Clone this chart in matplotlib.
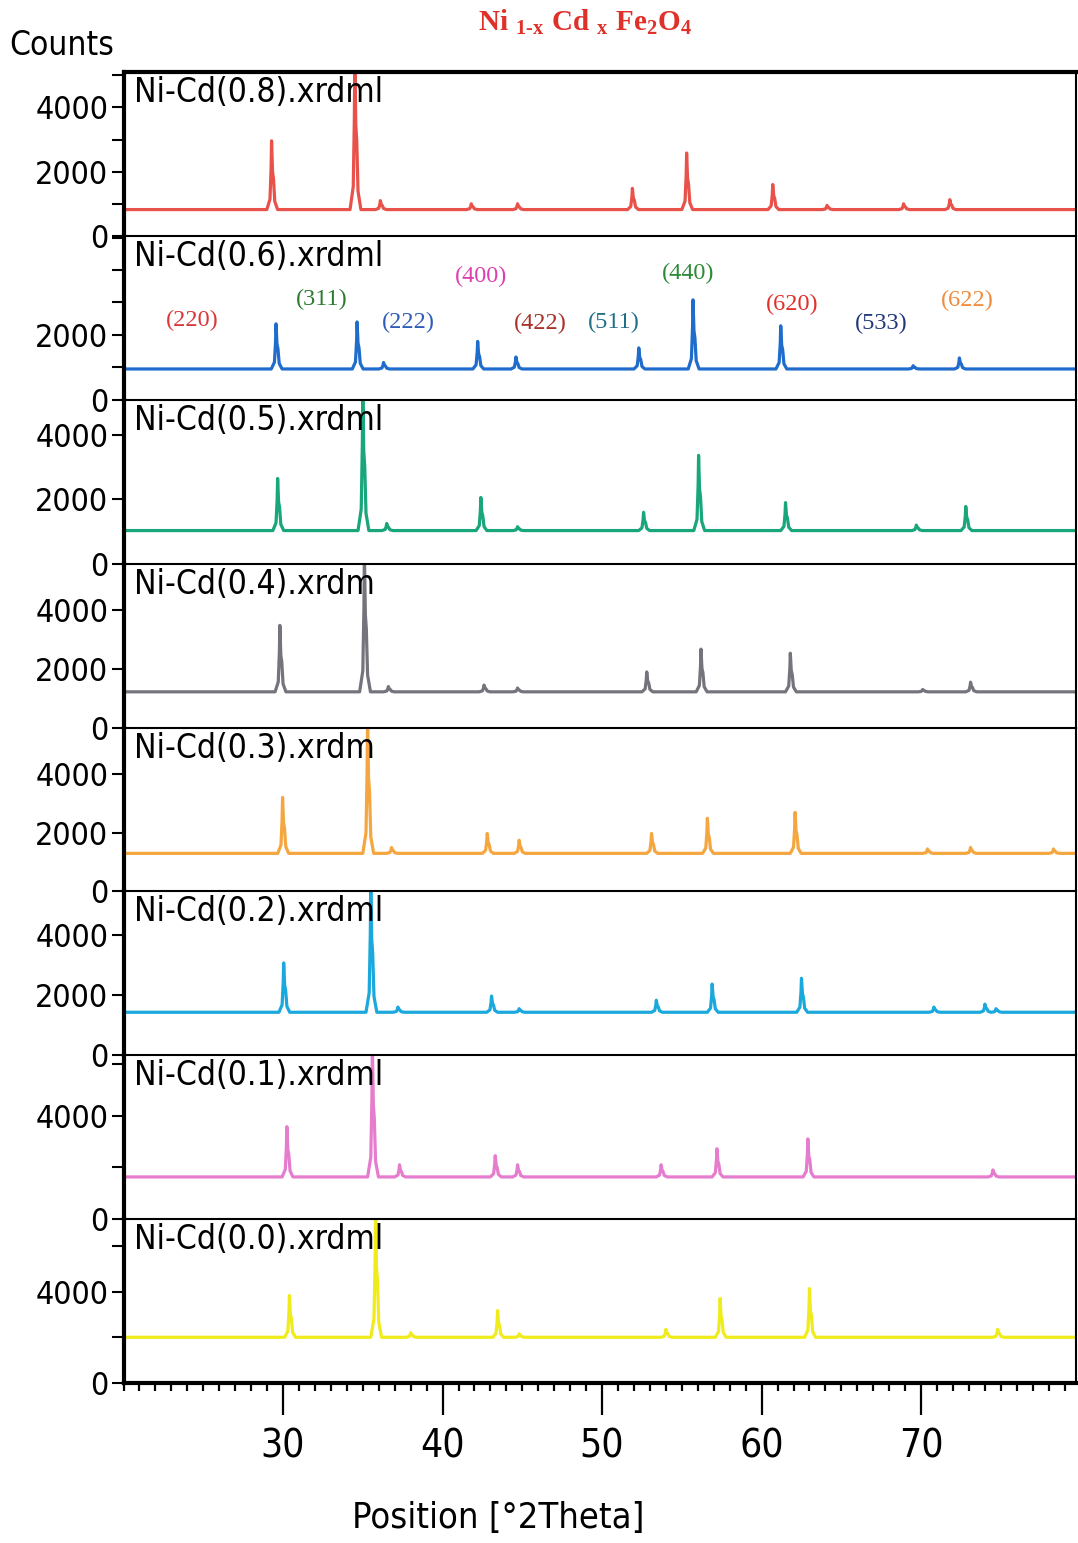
import matplotlib
matplotlib.use("Agg")
import matplotlib.pyplot as plt
from matplotlib import font_manager
from matplotlib.ticker import MultipleLocator, FixedLocator
import numpy as np

# sample labels, top to bottom
labels = ["Ni-Cd(0.8).xrdml", "Ni-Cd(0.6).xrdml", "Ni-Cd(0.5).xrdml", "Ni-Cd(0.4).xrdm",
          "Ni-Cd(0.3).xrdm", "Ni-Cd(0.2).xrdml", "Ni-Cd(0.1).xrdml", "Ni-Cd(0.0).xrdml"]
colors = ["#e8524b", "#1f6ccc", "#18a67a", "#74747c", "#f4a640", "#1aa8dd", "#e67ccd", "#f0ec1c"]

# background level of each pattern (counts)
baselines = [820, 950, 1030, 1220, 1300, 1430, 1630, 2000]

# peak positions (2theta) and heights (counts)
pos_08 = [29.28, 34.5, 36.1, 41.8, 44.7, 51.9, 55.3, 60.7, 64.1, 68.9, 71.8]
cnt_08 = [2960, 5600, 1100, 1000, 1000, 1480, 2580, 1600, 950, 1000, 1130]
pos_06 = [29.56, 34.64, 36.3, 42.2, 44.6, 52.3, 55.7, 61.2, 69.5, 72.4]
cnt_06 = [2340, 2400, 1150, 1800, 1320, 1600, 3080, 2280, 1050, 1290]
pos_05 = [29.66, 35.0, 36.5, 42.4, 44.7, 52.6, 56.05, 61.5, 69.7, 72.8]
cnt_05 = [2650, 5500, 1250, 2060, 1150, 1600, 3370, 1900, 1200, 1780]
pos_04 = [29.8, 35.1, 36.6, 42.6, 44.7, 52.8, 56.2, 61.8, 70.1, 73.1]
cnt_04 = [3490, 6000, 1400, 1450, 1350, 1900, 2680, 2540, 1300, 1550]
pos_03 = [29.97, 35.3, 36.8, 42.8, 44.8, 53.1, 56.6, 62.1, 70.4, 73.1, 78.3]
cnt_03 = [3210, 6000, 1500, 1980, 1750, 1980, 2500, 2700, 1450, 1500, 1450]
pos_02 = [30.04, 35.5, 37.2, 43.07, 44.8, 53.4, 56.9, 62.5, 70.8, 74.0, 74.7]
cnt_02 = [3070, 5800, 1600, 1970, 1550, 1830, 2370, 2560, 1600, 1700, 1550]
pos_01 = [30.24, 35.6, 37.3, 43.3, 44.7, 53.7, 57.2, 62.9, 74.5]
cnt_01 = [3570, 6700, 2100, 2450, 2100, 2100, 2720, 3100, 1900]
pos_00 = [30.4, 35.8, 38.0, 43.45, 44.8, 54.0, 57.4, 63.0, 74.8]
cnt_00 = [3830, 7500, 2200, 3170, 2150, 2350, 3700, 4130, 2350]

positions = [pos_08, pos_06, pos_05, pos_04, pos_03, pos_02, pos_01, pos_00]
counts = [cnt_08, cnt_06, cnt_05, cnt_04, cnt_03, cnt_02, cnt_01, cnt_00]

# axis limits of each panel
y_tops = [5100, 5050, 5100, 5600, 5600, 5450, 6330, 7170]
y_steps = [1000, 1000, 2000, 2000, 2000, 2000, 2000, 2000]
y_labelled = [[0, 2000, 4000], [0, 2000], [0, 2000, 4000], [0, 2000, 4000],
              [0, 2000, 4000], [0, 2000, 4000], [0, 4000], [0, 4000]]

# Miller indices marked on the x=0.6 pattern
hkl = ["(220)", "(311)", "(222)", "(400)", "(422)", "(511)", "(440)", "(620)", "(533)", "(622)"]
hkl_x = [24.3, 32.45, 37.85, 42.4, 46.1, 50.75, 55.4, 61.9, 67.5, 72.9]
hkl_y = [2460, 3080, 2370, 3815, 2340, 2370, 3880, 2950, 2340, 3050]
hkl_colors = ["#d8383a", "#2a7a30", "#2f5cb8", "#dc40b0", "#a8322a", "#1f6f88",
              "#2f8a38", "#e0302a", "#22387a", "#f08a3c"]

names = {f.name for f in font_manager.fontManager.ttflist}
if "Liberation Sans Narrow" in names:
    narrow = dict(family="Liberation Sans Narrow")
else:
    narrow = dict(family="DejaVu Sans", stretch="condensed")
serif = "Liberation Serif"


def trace(pos, cnt, base):
    xs = [20.0]
    ys = [base]
    for p, h in zip(pos, cnt):
        d = h - base
        xs += [p - 0.3, p - 0.1, p - 0.03, p, p + 0.06, p + 0.12, p + 0.2, p + 0.38]
        ys += [base, base + 0.15 * d, base + 0.6 * d, h, base + 0.55 * d, base + 0.45 * d,
               base + 0.12 * d, base]
    xs.append(79.7)
    ys.append(base)
    return np.array(xs), np.array(ys)


plt.rcParams["mathtext.fontset"] = "custom"
plt.rcParams["mathtext.rm"] = "Liberation Serif:bold"
plt.rcParams["mathtext.bf"] = "Liberation Serif:bold"

fig = plt.figure(figsize=(10.78, 15.43), dpi=100)
axes = fig.subplots(8, 1, sharex=True, gridspec_kw=dict(hspace=0))
fig.subplots_adjust(left=0.1146, right=0.998, top=0.9533, bottom=0.1037)

for i, ax in enumerate(axes):
    x, y = trace(positions[i], counts[i], baselines[i])
    ax.plot(x, y, color=colors[i], lw=2.3)
    ax.set_xlim(20, 79.7)
    ax.set_ylim(0, y_tops[i])

    ticks = list(range(0, y_tops[i], y_steps[i]))
    ax.yaxis.set_major_locator(FixedLocator(ticks))
    ax.set_yticklabels([str(t) if t in y_labelled[i] else "" for t in ticks])
    ax.tick_params(axis="y", direction="out", length=9, width=1.5, pad=2, labelsize=23)
    for lab in ax.get_yticklabels():
        lab.set_fontproperties(font_manager.FontProperties(size=23, **narrow))

    ax.text(0.011, 0.975, labels[i], transform=ax.transAxes, ha="left", va="top",
            fontsize=24, color="black", **narrow)

    ax.spines["left"].set_linewidth(3.0)
    ax.spines["right"].set_linewidth(1.5)
    ax.spines["top"].set_linewidth(3.0 if i == 0 else 1.5)
    ax.spines["bottom"].set_linewidth(3.0)
    ax.spines["bottom"].set_visible(i == 7)
    if i < 7:
        ax.tick_params(axis="x", which="both", bottom=False, labelbottom=False)

ax6 = axes[1]
for t, hx, hy, c in zip(hkl, hkl_x, hkl_y, hkl_colors):
    ax6.text(hx, hy, t, color=c, fontsize=17.5, family=serif, ha="center", va="center")

axb = axes[-1]
axb.xaxis.set_major_locator(FixedLocator([30, 40, 50, 60, 70]))
axb.xaxis.set_minor_locator(MultipleLocator(1))
axb.tick_params(axis="x", which="major", direction="out", length=23, width=1.6, pad=9)
axb.tick_params(axis="x", which="minor", direction="out", length=6, width=1.6)
for lab in axb.get_xticklabels():
    lab.set_fontproperties(font_manager.FontProperties(size=28, **narrow))

fig.text(0.009, 0.9708, "Counts", ha="left", va="center", fontsize=24, **narrow)
fig.text(0.462, 0.0162, "Position [°2Theta]", ha="center", va="center", fontsize=26, **narrow)

title = (r"$\mathbf{Ni}\;_{\mathbf{1\text{-}x}}\;\mathbf{Cd}\;_{\mathbf{x}}\;"
         r"\mathbf{Fe}_{\mathbf{2}}\mathbf{O}_{\mathbf{4}}$")
fig.text(0.5427, 0.9857, title, ha="center", va="center", fontsize=21, color="#e0302a")

fig.savefig("out.png", dpi=100)
